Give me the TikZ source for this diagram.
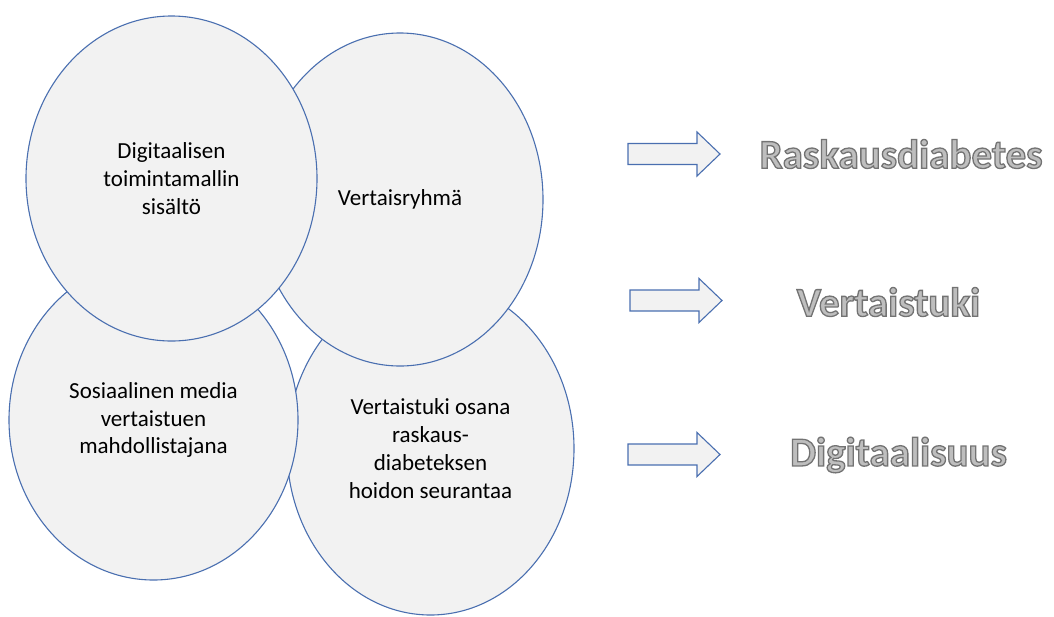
\documentclass[tikz,border=0pt]{standalone}
\usepackage{fontspec}
\setmainfont{Carlito}
\usetikzlibrary{shapes.geometric}
\definecolor{edgeblue}{HTML}{4A6FB0}
\definecolor{shapefill}{HTML}{F2F2F2}
\definecolor{wordfill}{HTML}{BEBEBE}
\newcommand\outlinedword[1]{\color{wordfill}\special{pdf:literal direct 2 Tr 1.3 w 0.45 0.45 0.45 RG}#1\special{pdf:literal direct 0 Tr}}
\tikzset{
  bubble/.style={ellipse, draw=edgeblue, fill=shapefill, line width=1.1pt,
    inner sep=0pt, outer sep=0pt, align=center,
    font=\fontsize{23}{27.8}\selectfont, text=black},
  blockarrow/.style={draw=edgeblue, fill=shapefill, line width=1.1pt, line join=miter},
  keyword/.style={font=\fontsize{41}{48}\selectfont\bfseries, inner sep=0pt}
}
\begin{document}
\begin{tikzpicture}[x=1pt,y=-1pt]
\useasboundingbox (0,0) rectangle (1054,616);
% bubbles (bottom layer first)
\node[bubble, minimum width=287pt, minimum height=333pt] (e4) at (430.5,448.5)
  {Vertaistuki osana\\raskaus-\\diabeteksen\\hoidon seurantaa};
\node[bubble, minimum width=289pt, minimum height=320pt] (e3) at (153.5,420)
  {Sosiaalinen media\\vertaistuen\\mahdollistajana};
\node[bubble, minimum width=286pt, minimum height=333pt] (e2) at (400,199.5)
  {Vertaisryhmä};
\node[bubble, minimum width=291pt, minimum height=325pt] (e1) at (171.5,178.5)
  {Digitaalisen\\toimintamallin\\sisältö};
% block arrows
\draw[blockarrow] (628,143.5) -- (697,143.5) -- (697,132) -- (720,154) -- (697,176) -- (697,164.5) -- (628,164.5) -- cycle;
\draw[blockarrow] (630,290) -- (699,290) -- (699,278.5) -- (722,300.5) -- (699,322.5) -- (699,311) -- (630,311) -- cycle;
\draw[blockarrow] (628,444) -- (697,444) -- (697,432.5) -- (720,454.5) -- (697,476.5) -- (697,465) -- (628,465) -- cycle;
% keywords
\node[keyword] (k1) at (901,154) {\outlinedword{Raskausdiabetes}};
\node[keyword] (k2) at (888.5,302) {\outlinedword{Vertaistuki}};
\node[keyword] (k3) at (898.5,455) {\outlinedword{Digitaalisuus}};
\end{tikzpicture}
\end{document}
